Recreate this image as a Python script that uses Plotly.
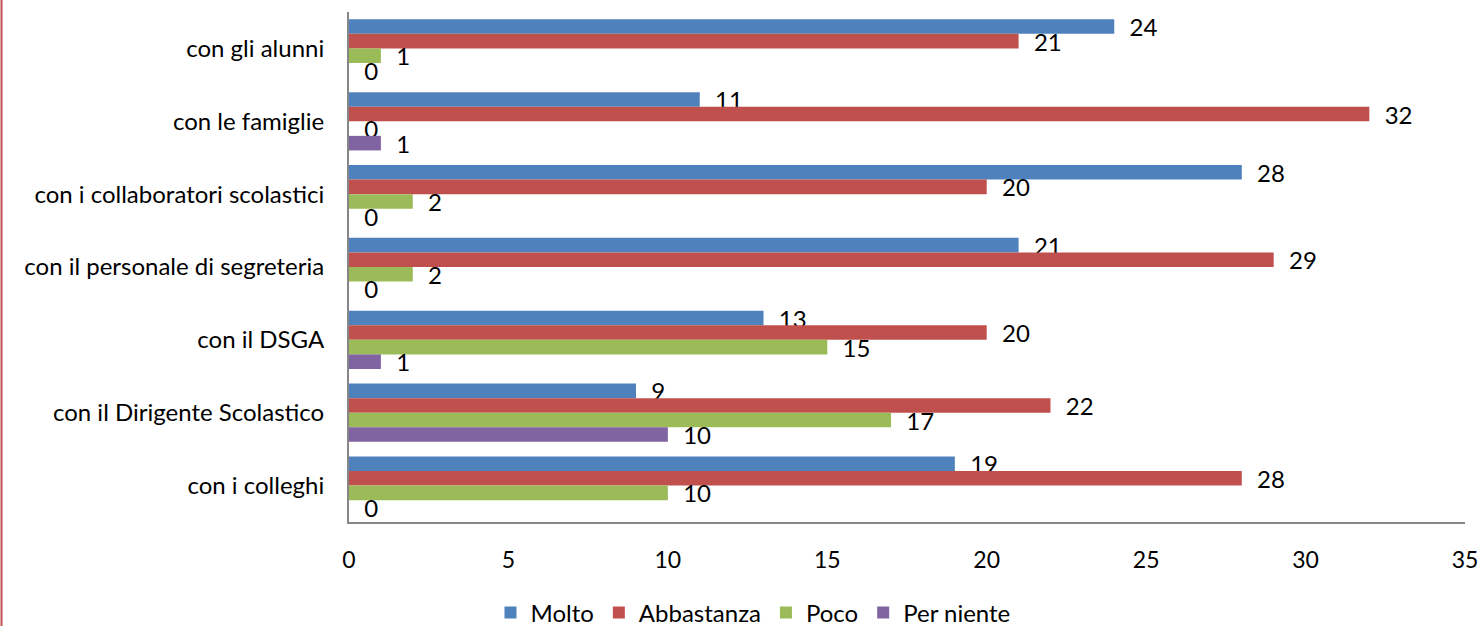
import plotly.graph_objects as go

categories = ["con gli alunni", "con le famiglie", "con i collaboratori scolastici",
              "con il personale di segreteria", "con il DSGA",
              "con il Dirigente Scolastico", "con i colleghi"]
molto = [24, 11, 28, 21, 13, 9, 19]
abbastanza = [21, 32, 20, 29, 20, 22, 28]
poco = [1, 0, 2, 2, 15, 17, 10]
per_niente = [0, 1, 0, 0, 1, 10, 0]
series = [("Molto", molto, "#4F81BD"), ("Abbastanza", abbastanza, "#C0504D"),
          ("Poco", poco, "#9BBB59"), ("Per niente", per_niente, "#8064A2")]
x_ticks = [0, 5, 10, 15, 20, 25, 30, 35]

FONT = "Lato"
FS = 24
PAD = "\u00a0\u00a0"
fig = go.Figure()
for name, vals, col in series:
    fig.add_trace(go.Bar(
        y=categories, x=vals, name=name, orientation="h",
        marker=dict(color=col, line=dict(width=0)),
        text=[PAD + str(v) for v in vals], textposition="outside",
        constraintext="none",
        textfont=dict(family=FONT, size=FS, color="black"),
        cliponaxis=False, hoverinfo="skip",
    ))

W, H = 1479, 626
ml, mr, mt, mb = 349, 14, 12, 104
ph = H - mt - mb
pw = W - ml - mr

fig.update_layout(
    width=W, height=H, barmode="group", bargap=0.2, bargroupgap=0,
    margin=dict(l=ml, r=mr, t=mt, b=mb, autoexpand=False),
    plot_bgcolor="white", paper_bgcolor="white",
    font=dict(family=FONT, size=FS, color="black"),
    xaxis=dict(range=[0, 35], tickvals=x_ticks, showgrid=False, zeroline=False,
               showline=True, linecolor="#868686", linewidth=2, automargin=False,
               ticks="", ticklabelstandoff=16, ticklabeloverflow="allow",
               tickfont=dict(size=23)),
    yaxis=dict(autorange="reversed", showgrid=False, zeroline=False,
               showline=True, linecolor="#868686", linewidth=2, automargin=False,
               ticks="", ticklabelstandoff=18, ticklabeloverflow="allow",
               tickfont=dict(size=FS)),
    legend=dict(orientation="h", x=0.362, xanchor="center", y=-(613 - (H - mb)) / ph,
                yanchor="middle", font=dict(size=FS), itemwidth=30, tracegroupgap=0),
    showlegend=True,
)
fig.add_shape(type="line", xref="paper", yref="paper",
              x0=(1.5 - ml) / pw, x1=(1.5 - ml) / pw,
              y0=-mb / ph, y1=(H - mb) / ph,
              line=dict(color="#C0504D", width=2))
fig.write_html("out.html", config={"displayModeBar": False},
               post_script="document.body.style.margin='0';")
